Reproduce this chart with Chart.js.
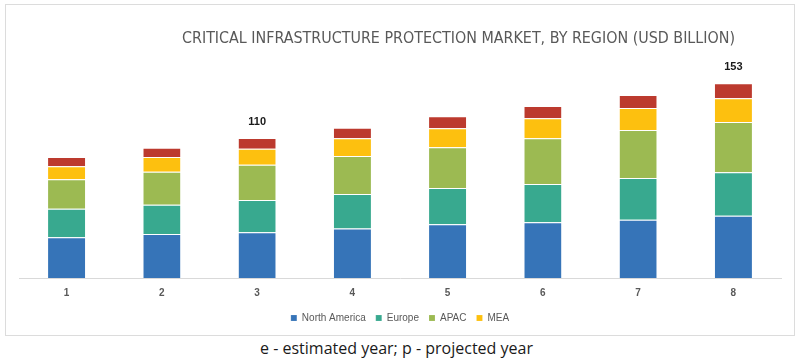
<!DOCTYPE html>
<html>
<head>
<meta charset="utf-8">
<script src="https://cdn.jsdelivr.net/npm/chart.js@4"></script>
<style>
  html, body { margin: 0; padding: 0; background: #fff; }
  #page { position: relative; width: 800px; height: 362px; overflow: hidden; }
  #frame { position: absolute; left: 5px; top: 4px; width: 790px; height: 332px; border: 1px solid #dcdcdc; box-sizing: border-box; }
  #chart-wrap { position: absolute; left: 0; top: 0; width: 800px; height: 334px; }
  #title { position: absolute; left: 182px; top: 29px; font-family: "Liberation Sans Narrow", "DejaVu Sans Condensed", "Liberation Sans", sans-serif; font-size: 15px; color: #595959; white-space: nowrap; transform-origin: left top; }
  #note { position: absolute; left: 260px; top: 337px; font-family: "Open Sans", "Noto Sans", sans-serif; font-size: 16px; color: #1a1a1a; white-space: nowrap; transform-origin: left top; }
</style>
</head>
<body>
<div id="page">
  <div id="frame"></div>
  <div id="chart-wrap"><canvas id="c"></canvas></div>
  <div id="title">CRITICAL INFRASTRUCTURE PROTECTION MARKET, BY REGION (USD BILLION)</div>
  <div id="note">e - estimated year; p - projected year</div>
</div>
<script>
// 값은 그림에서 읽은 추정치 (USD billion)
const years = ["1", "2", "3", "4", "5", "6", "7", "8"];
const northAmerica = [31.9, 34.5, 35.8, 38.9, 42.1, 43.7, 45.7, 48.9];
const europe       = [22.5, 23.0, 25.4, 26.9, 28.5, 30.1, 32.7, 34.0];
const apac         = [23.0, 25.9, 27.7, 29.8, 31.9, 35.8, 37.6, 39.5];
const mea          = [10.2, 11.5, 12.5, 14.1, 14.9, 15.7, 17.3, 18.6];
const latam        = [ 7.3,  7.3,  8.4,  8.1,  9.4,  9.7, 10.2, 11.8];
const totalLabels  = [null, null, "110", null, null, null, null, "153"];

const $ = (s) => document.querySelector(s);

// 제목/주석 폭 맞추기
function fitWidth(el, w) {
  const r = el.getBoundingClientRect().width;
  if (r > 0) el.style.transform = `scaleX(${w / r})`;
}
fitWidth($("#title"), 553);
fitWidth($("#note"), 273);

const seg = (label, data, color) => ({
  label, data, backgroundColor: color,
  borderColor: "rgba(255,255,255,0.55)", borderWidth: { top: 1 }, borderSkipped: false,
  barPercentage: 0.78, categoryPercentage: 0.5
});

// 막대 위 합계 라벨
const totalsPlugin = {
  id: "totals",
  afterDatasetsDraw(chart) {
    const { ctx } = chart;
    const meta = chart.getDatasetMeta(chart.data.datasets.length - 1);
    ctx.save();
    ctx.font = "bold 11px 'Liberation Sans', sans-serif";
    ctx.fillStyle = "#1a1a1a";
    ctx.textAlign = "center";
    ctx.textBaseline = "middle";
    meta.data.forEach((bar, i) => {
      if (totalLabels[i]) ctx.fillText(totalLabels[i], bar.x, bar.y - 16);
    });
    ctx.restore();
  }
};

new Chart($("#c"), {
  type: "bar",
  data: {
    labels: years,
    datasets: [
      seg("North America", northAmerica, "#3674b8"),
      seg("Europe", europe, "#38a98f"),
      seg("APAC", apac, "#9cba52"),
      seg("MEA", mea, "#fdc00f"),
      seg("Latin America", latam, "#bc3a2e")
    ]
  },
  options: {
    responsive: true, maintainAspectRatio: false, animation: false,
    layout: { padding: { left: 19, right: 19, top: 48.5, bottom: 1 } },
    plugins: {
      legend: {
        position: "bottom",
        labels: {
          boxWidth: 6, boxHeight: 6, padding: 10, color: "#595959",
          font: { size: 10, family: "'Liberation Sans', sans-serif" },
          filter: (item) => item.text !== "Latin America"
        }
      },
      tooltip: { enabled: false }
    },
    scales: {
      x: {
        stacked: true,
        grid: { display: false, drawTicks: false },
        border: { display: true, color: "#d9d9d9", width: 1 },
        ticks: { color: "#595959", padding: 9, font: { size: 10, weight: "bold", family: "'Liberation Sans', sans-serif" } },
        afterFit: (scale) => { scale.height -= 5; }
      },
      y: { stacked: true, display: false, min: 0, max: 180 }
    }
  },
  plugins: [totalsPlugin]
});
</script>
</body>
</html>
